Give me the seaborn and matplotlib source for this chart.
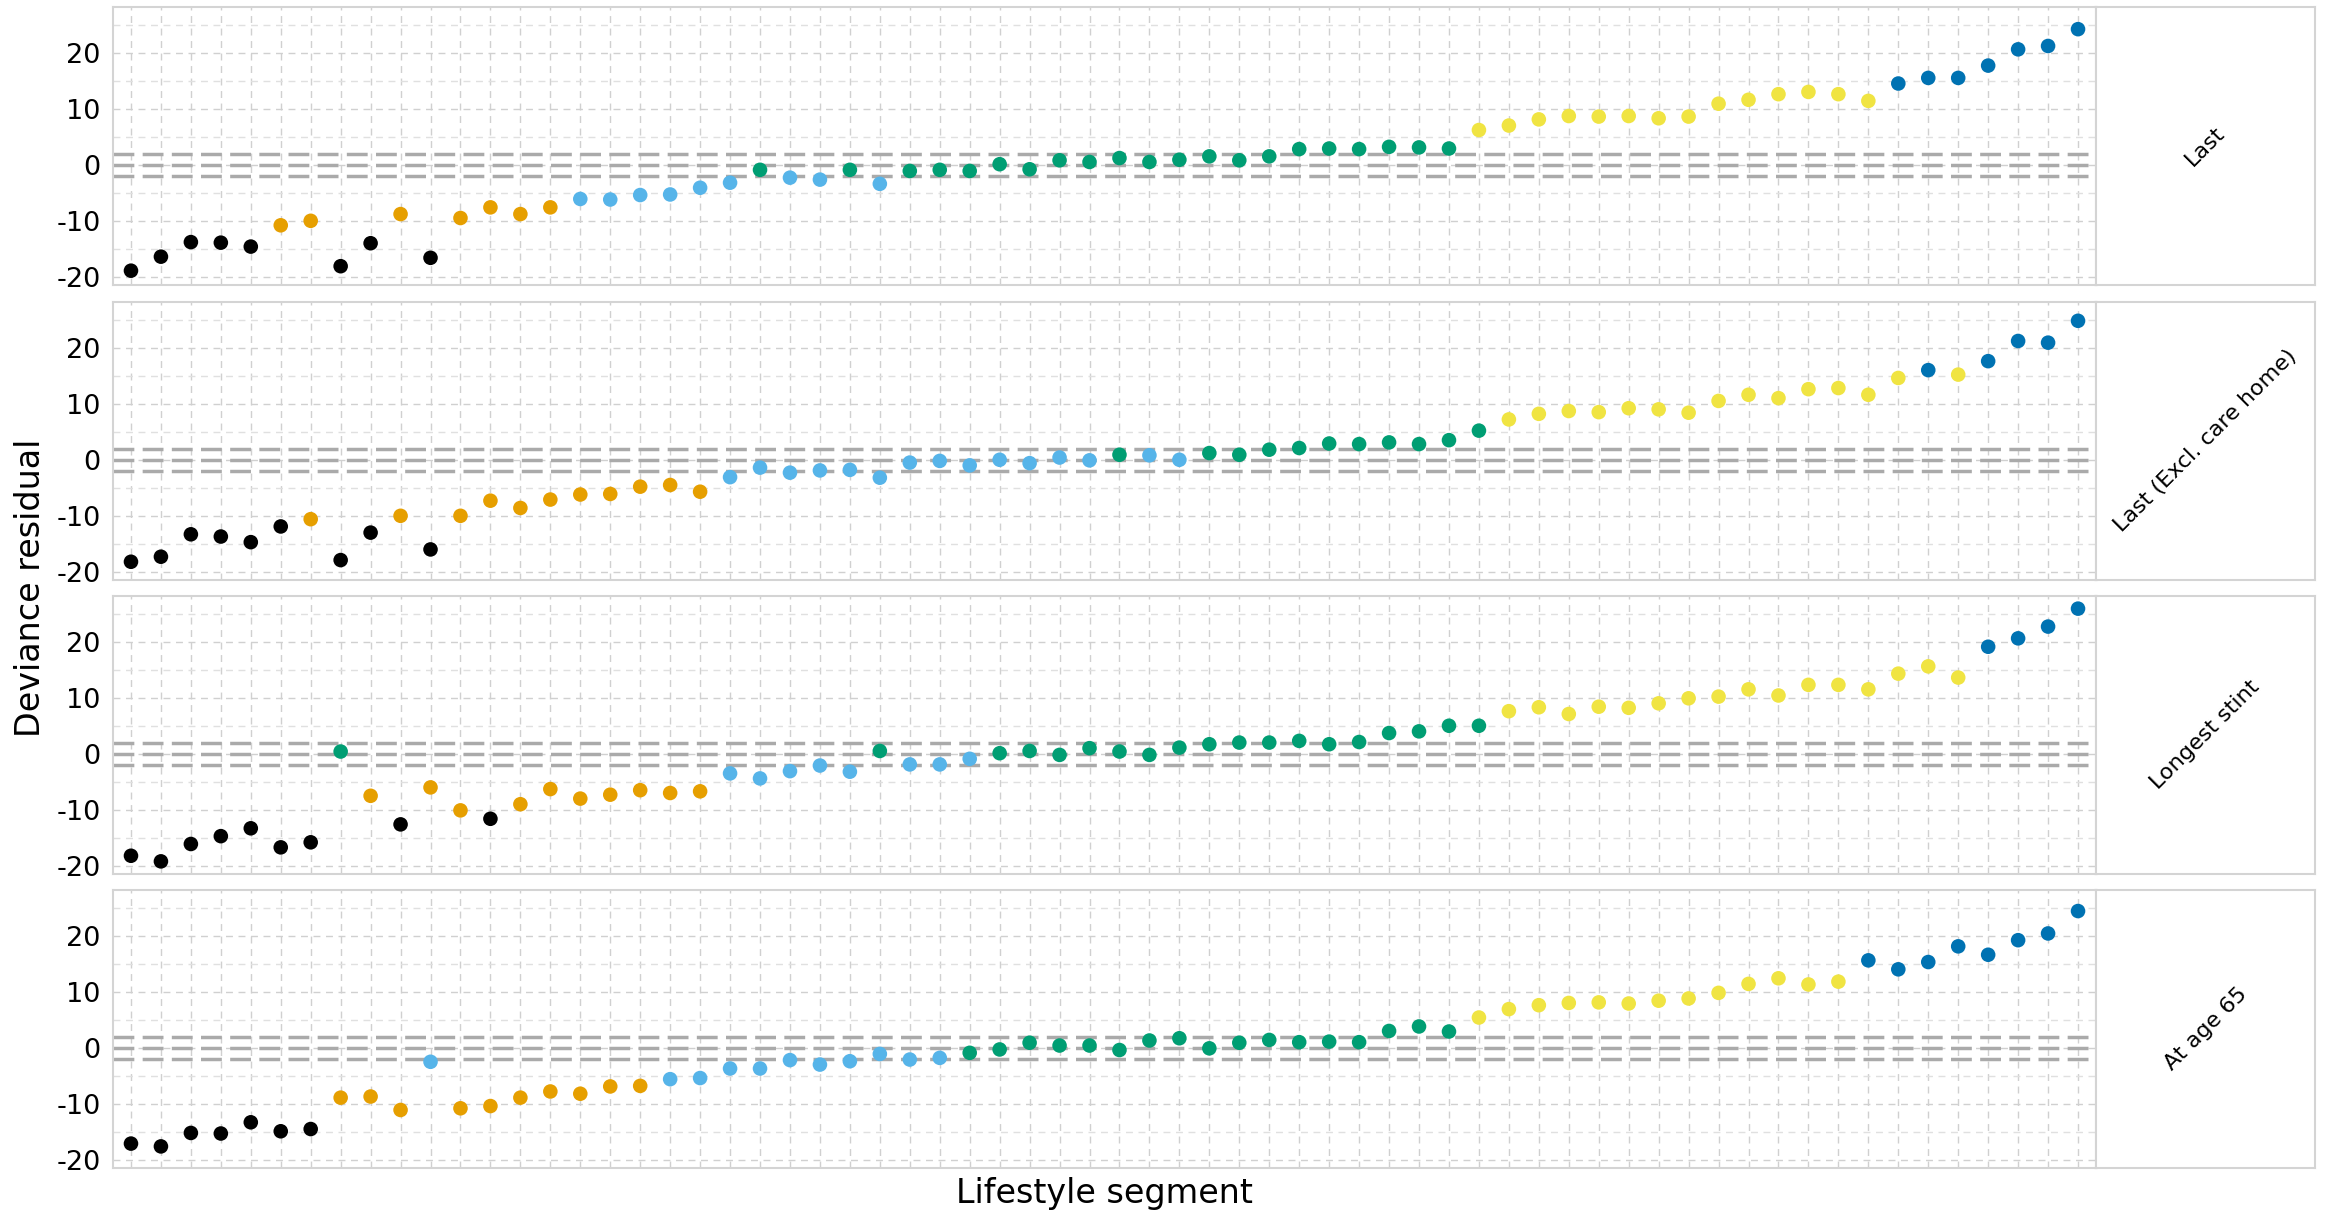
import numpy as np
import pandas as pd
import matplotlib
matplotlib.use("Agg")
import matplotlib.pyplot as plt
import seaborn as sns

# Deviance residuals per lifestyle segment, ranked within each definition
panels = ["Last", "Last (Excl. care home)", "Longest stint", "At age 65"]

resid_last = [
    -18.9, -16.4, -13.8, -13.9, -14.6, -10.8, -10.0, -18.1, -14.0, -8.8,
    -16.6, -9.5, -7.6, -8.8, -7.6, -6.1, -6.2, -5.4, -5.3, -4.1,
    -3.2, -0.9, -2.3, -2.65, -0.9, -3.4, -1.1, -0.9, -1.1, 0.1,
    -0.8, 0.8, 0.5, 1.2, 0.5, 0.9, 1.5, 0.8, 1.5, 2.8,
    2.9, 2.8, 3.2, 3.1, 2.9, 6.2, 7.0, 8.1, 8.7, 8.6,
    8.7, 8.3, 8.6, 10.9, 11.6, 12.6, 13.0, 12.6, 11.4, 14.5,
    15.5, 15.5, 17.7, 20.6, 21.2, 24.2,
]
group_last = "KKKKK" "OO" "KK" "O" "K" "OOOO" "SSSSSS" "G" "SS" "G" "S" + "G" * 19 + "Y" * 14 + "B" * 7

resid_excl_care = [
    -18.2, -17.3, -13.3, -13.7, -14.7, -11.9, -10.6, -17.9, -13.0, -10.0,
    -16.0, -10.0, -7.3, -8.6, -7.1, -6.2, -6.1, -4.8, -4.5, -5.7,
    -3.1, -1.4, -2.3, -1.9, -1.8, -3.2, -0.5, -0.2, -1.0, 0.0,
    -0.6, 0.4, -0.1, 0.9, 0.8, 0.0, 1.2, 0.9, 1.8, 2.1,
    2.9, 2.8, 3.1, 2.8, 3.5, 5.2, 7.2, 8.2, 8.7, 8.5,
    9.2, 9.0, 8.4, 10.5, 11.6, 11.0, 12.6, 12.8, 11.6, 14.6,
    16.0, 15.2, 17.6, 21.2, 20.9, 24.8,
]
group_excl_care = "K" * 6 + "O" + "KK" + "O" + "K" + "O" * 9 + "S" * 13 + "G" + "SS" + "G" * 10 + "Y" * 14 + "B" + "Y" + "B" * 4

resid_longest = [
    -18.2, -19.2, -16.1, -14.7, -13.3, -16.7, -15.8, 0.4, -7.5, -12.6,
    -6.0, -10.1, -11.6, -9.0, -6.3, -8.0, -7.3, -6.5, -7.0, -6.7,
    -3.5, -4.4, -3.1, -2.1, -3.2, 0.5, -1.9, -1.9, -0.9, 0.1,
    0.5, -0.2, 1.0, 0.4, -0.2, 1.1, 1.7, 2.0, 2.0, 2.3,
    1.7, 2.1, 3.7, 4.0, 5.0, 5.0, 7.6, 8.3, 7.1, 8.4,
    8.2, 9.0, 9.9, 10.2, 11.5, 10.4, 12.3, 12.3, 11.5, 14.3,
    15.6, 13.6, 19.1, 20.6, 22.7, 25.9,
]
group_longest = "K" * 7 + "G" + "O" + "K" + "OO" + "K" + "O" * 7 + "S" * 5 + "G" + "S" * 3 + "G" * 17 + "Y" * 16 + "B" * 4

resid_age65 = [
    -17.1, -17.6, -15.2, -15.3, -13.3, -14.9, -14.5, -8.9, -8.7, -11.1,
    -2.5, -10.8, -10.4, -8.9, -7.8, -8.2, -6.9, -6.8, -5.6, -5.4,
    -3.7, -3.7, -2.2, -3.0, -2.4, -1.1, -2.1, -1.8, -0.9, -0.3,
    0.9, 0.4, 0.4, -0.4, 1.3, 1.7, -0.1, 0.9, 1.4, 1.0,
    1.1, 1.0, 3.0, 3.8, 2.9, 5.4, 6.9, 7.6, 8.0, 8.1,
    7.9, 8.4, 8.8, 9.8, 11.4, 12.4, 11.3, 11.8, 15.6, 14.0,
    15.3, 18.1, 16.6, 19.2, 20.4, 24.4,
]
group_age65 = "K" * 7 + "O" * 3 + "S" + "O" * 7 + "S" * 10 + "G" * 17 + "Y" * 13 + "B" * 8

group_palette = {
    "K": "#000000", "O": "#E69F00", "S": "#56B4E9",
    "G": "#009E73", "Y": "#F0E442", "B": "#0072B2",
}

residuals = [resid_last, resid_excl_care, resid_longest, resid_age65]
groups = [group_last, group_excl_care, group_longest, group_age65]

frames = []
for name, vals, grp in zip(panels, residuals, groups):
    frames.append(pd.DataFrame({
        "definition": name,
        "rank": np.arange(len(vals)),
        "residual": vals,
        "group": list(grp),
    }))
df = pd.concat(frames, ignore_index=True)

sns.set_style("white")
plt.rcParams["font.family"] = ["DejaVu Sans"]
plt.rcParams["axes.unicode_minus"] = False
plt.rcParams["text.color"] = "black"

W, H = 2331, 1218
fig = plt.figure(figsize=(W / 100, H / 100), dpi=100)

ax_left, ax_right, strip_right = 113, 2096, 2315
panel_tops = [7, 302, 596, 890]
panel_h = 278

lo, hi = df["residual"].min(), df["residual"].max()
pad = 0.05 * (hi - lo)
n = len(resid_last)

grid_kw = dict(linestyle=(0, (5, 4)), linewidth=1.0)
border = "#d4d4d4"

for i, name in enumerate(panels):
    top = panel_tops[i]
    rect = [ax_left / W, 1 - (top + panel_h) / H, (ax_right - ax_left) / W, panel_h / H]
    ax = fig.add_axes(rect)
    sub = df[df["definition"] == name]

    ax.set_xticks(np.arange(n))
    ax.set_yticks([-20, -10, 0, 10, 20])
    ax.set_yticks([-15, -5, 5, 15, 25], minor=True)
    ax.set_xlim(-0.6, n - 1 + 0.6)
    ax.set_ylim(lo - pad, hi + pad)
    ax.grid(True, which="major", axis="both", color="#d0d0d0", **grid_kw)
    ax.grid(True, which="minor", axis="y", color="#e0e0e0", **grid_kw)
    ax.set_axisbelow(True)

    for yref in (-2, 0, 2):
        ax.axhline(yref, color="#aaaaaa", linewidth=2.5, linestyle=(0, (6, 2.4)), zorder=1.5)

    sns.scatterplot(data=sub, x="rank", y="residual", hue="group", palette=group_palette,
                    s=110, linewidth=0, legend=False, ax=ax, zorder=3)

    ax.set_xlabel("")
    ax.set_ylabel("")
    ax.tick_params(axis="y", which="major", length=6, width=1, color="#cccccc",
                   labelsize=19.5, labelcolor="black", pad=3)
    ax.tick_params(axis="y", which="minor", length=0)
    if i == len(panels) - 1:
        ax.tick_params(axis="x", length=6, width=1, color="#cccccc", labelbottom=False)
    else:
        ax.tick_params(axis="x", length=0, labelbottom=False)
    for sp in ax.spines.values():
        sp.set_color(border)
        sp.set_linewidth(1.5)

    # facet strip on the right
    srect = [ax_right / W, rect[1], (strip_right - ax_right) / W, rect[3]]
    sax = fig.add_axes(srect)
    sax.set_xticks([])
    sax.set_yticks([])
    sax.set_facecolor("white")
    for sp in sax.spines.values():
        sp.set_color(border)
        sp.set_linewidth(1.5)
    sax.text(0.5, 0.5, name, rotation=45, ha="center", va="center", color="black",
             fontsize=16, transform=sax.transAxes, rotation_mode="anchor")

fig.text(31 / W, 1 - ((panel_tops[0] + panel_tops[-1] + panel_h) / 2) / H, "Deviance residual",
         rotation=90, ha="center", va="center", fontsize=24, color="black")
fig.text(((ax_left + ax_right) / 2) / W, 1 - 1194 / H, "Lifestyle segment",
         ha="center", va="center", fontsize=24, color="black")

fig.savefig("out.png", dpi=100, facecolor="white")
